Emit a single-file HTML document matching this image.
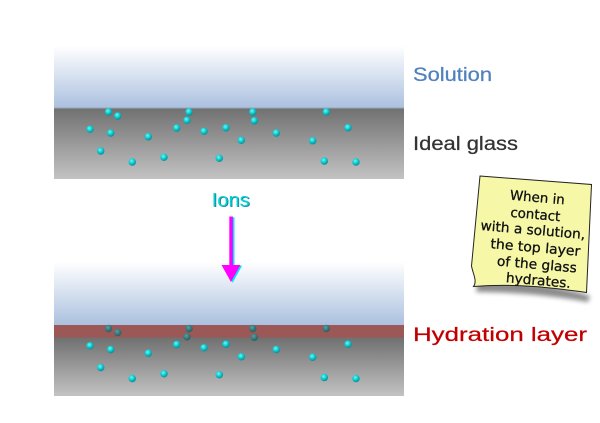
<!DOCTYPE html>
<html><head><meta charset="utf-8"><style>
html,body{margin:0;padding:0;background:#fff;}
svg{display:block;}
</style></head><body>
<svg width="600" height="423" viewBox="0 0 600 423" xmlns="http://www.w3.org/2000/svg">
<defs>
<linearGradient id="sol" x1="0" y1="0" x2="0" y2="1">
<stop offset="0" stop-color="#ffffff"/>
<stop offset="1" stop-color="#abc1df"/>
</linearGradient>
<linearGradient id="gl" x1="0" y1="0" x2="0" y2="1">
<stop offset="0" stop-color="#707070"/>
<stop offset="1" stop-color="#c3c3c3"/>
</linearGradient>
<radialGradient id="ball" cx="0.4" cy="0.35" r="0.65">
<stop offset="0" stop-color="#6ff8f8"/>
<stop offset="0.5" stop-color="#10d0d4"/>
<stop offset="1" stop-color="#078c94"/>
</radialGradient>
<radialGradient id="dball" cx="0.4" cy="0.35" r="0.65">
<stop offset="0" stop-color="#5aa0a0"/>
<stop offset="0.5" stop-color="#3d7f80"/>
<stop offset="1" stop-color="#2a5d60"/>
</radialGradient>
<filter id="blur" x="-20%" y="-20%" width="140%" height="140%"><feGaussianBlur stdDeviation="2.5"/></filter>
<g id="dotsAll">
<circle cx="90" cy="129.3" r="3.7"/>
<circle cx="110.7" cy="133" r="3.7"/>
<circle cx="148.3" cy="136.7" r="3.7"/>
<circle cx="176.7" cy="128" r="3.7"/>
<circle cx="204" cy="131.3" r="3.7"/>
<circle cx="226" cy="127.7" r="3.7"/>
<circle cx="241.3" cy="140.3" r="3.7"/>
<circle cx="276.3" cy="133" r="3.7"/>
<circle cx="312.7" cy="140.7" r="3.7"/>
<circle cx="348" cy="127.7" r="3.7"/>
<circle cx="100.7" cy="151" r="3.7"/>
<circle cx="132.3" cy="162" r="3.7"/>
<circle cx="164" cy="157.3" r="3.7"/>
<circle cx="219.3" cy="158.3" r="3.7"/>
<circle cx="324.3" cy="161" r="3.7"/>
<circle cx="356" cy="162" r="3.7"/>
</g>
<g id="dotsTop">
<circle cx="108.5" cy="112" r="3.7"/>
<circle cx="117.7" cy="116" r="3.7"/>
<circle cx="189" cy="112" r="3.7"/>
<circle cx="187" cy="120.3" r="3.7"/>
<circle cx="252.7" cy="112" r="3.7"/>
<circle cx="254.3" cy="120.7" r="3.7"/>
<circle cx="326.3" cy="112" r="3.7"/>
</g>
</defs>

<!-- top panel -->
<rect x="54" y="46" width="350" height="62" fill="url(#sol)"/>
<rect x="54" y="108" width="350" height="71" fill="url(#gl)"/>
<line x1="54" y1="108" x2="404" y2="108" stroke="#9aa8b8" stroke-width="1"/>
<g fill="url(#ball)"><use href="#dotsAll"/><use href="#dotsTop"/></g>

<!-- bottom panel -->
<rect x="54" y="262" width="350" height="63" fill="url(#sol)"/>
<rect x="54" y="337.5" width="350" height="58.5" fill="url(#gl)"/>
<rect x="54" y="325" width="350" height="12.5" fill="#9c5757"/>
<g transform="translate(0,216.5)">
<g fill="url(#ball)"><use href="#dotsAll"/></g>
<g fill="url(#dball)"><use href="#dotsTop"/></g>
</g>

<!-- labels -->
<text x="413" y="81" font-family="Liberation Sans, DejaVu Sans, sans-serif" font-size="19" fill="#4f81bd" stroke="#4f81bd" stroke-width="0.25" textLength="79" lengthAdjust="spacingAndGlyphs">Solution</text>
<text x="413" y="150" font-family="Liberation Sans, DejaVu Sans, sans-serif" font-size="19" fill="#333333" stroke="#333333" stroke-width="0.25" textLength="105" lengthAdjust="spacingAndGlyphs">Ideal glass</text>
<text x="413" y="341" font-family="Liberation Sans, DejaVu Sans, sans-serif" font-size="19.5" fill="#c00000" stroke="#c00000" stroke-width="0.25" textLength="174" lengthAdjust="spacingAndGlyphs">Hydration layer</text>
<text x="212.5" y="207" font-family="Liberation Sans, DejaVu Sans, sans-serif" font-size="19" fill="#2a6f8a" textLength="38" lengthAdjust="spacingAndGlyphs">Ions</text>
<text x="211.7" y="206.5" font-family="Liberation Sans, DejaVu Sans, sans-serif" font-size="19" fill="#00d4d8" textLength="38" lengthAdjust="spacingAndGlyphs">Ions</text>

<!-- arrow -->
<g transform="translate(1.6,0.8)" fill="#00e8f0">
<rect x="229.3" y="216.5" width="3.6" height="50"/>
<polygon points="221.5,265 240.5,265 231,282"/>
</g>
<rect x="229.3" y="216.5" width="3.6" height="50" fill="#ff00ff"/>
<polygon points="221.5,265 240.5,265 231,282" fill="#ff00ff"/>

<!-- sticky note -->
<path d="M478,282 C520,280 560,286 590,296 L588,302 C555,296 515,292 476,292 Z" fill="#000" opacity="0.45" filter="url(#blur)"/>
<path d="M480,176 L591.5,184.5 L586.5,292.5 C555,288 515,283 473.5,286.5 C477.5,281 473,274 471.5,266 Z" fill="#f6f8a8" stroke="#222" stroke-width="1"/>
<g font-family="DejaVu Sans, Liberation Sans, sans-serif" font-size="13.5" fill="#111" stroke="#111" stroke-width="0.3" text-anchor="middle">
<text transform="translate(537,202) rotate(5)" textLength="55" lengthAdjust="spacingAndGlyphs">When in</text>
<text transform="translate(535,219) rotate(5)" textLength="50" lengthAdjust="spacingAndGlyphs">contact</text>
<text transform="translate(532.5,234.5) rotate(5)" textLength="105" lengthAdjust="spacingAndGlyphs">with a solution,</text>
<text transform="translate(535,252) rotate(5)" textLength="90" lengthAdjust="spacingAndGlyphs">the top layer</text>
<text transform="translate(536.5,269) rotate(5)" textLength="80" lengthAdjust="spacingAndGlyphs">of the glass</text>
<text transform="translate(538,285) rotate(5)" textLength="65" lengthAdjust="spacingAndGlyphs">hydrates.</text>
</g>
</svg>
</body></html>
